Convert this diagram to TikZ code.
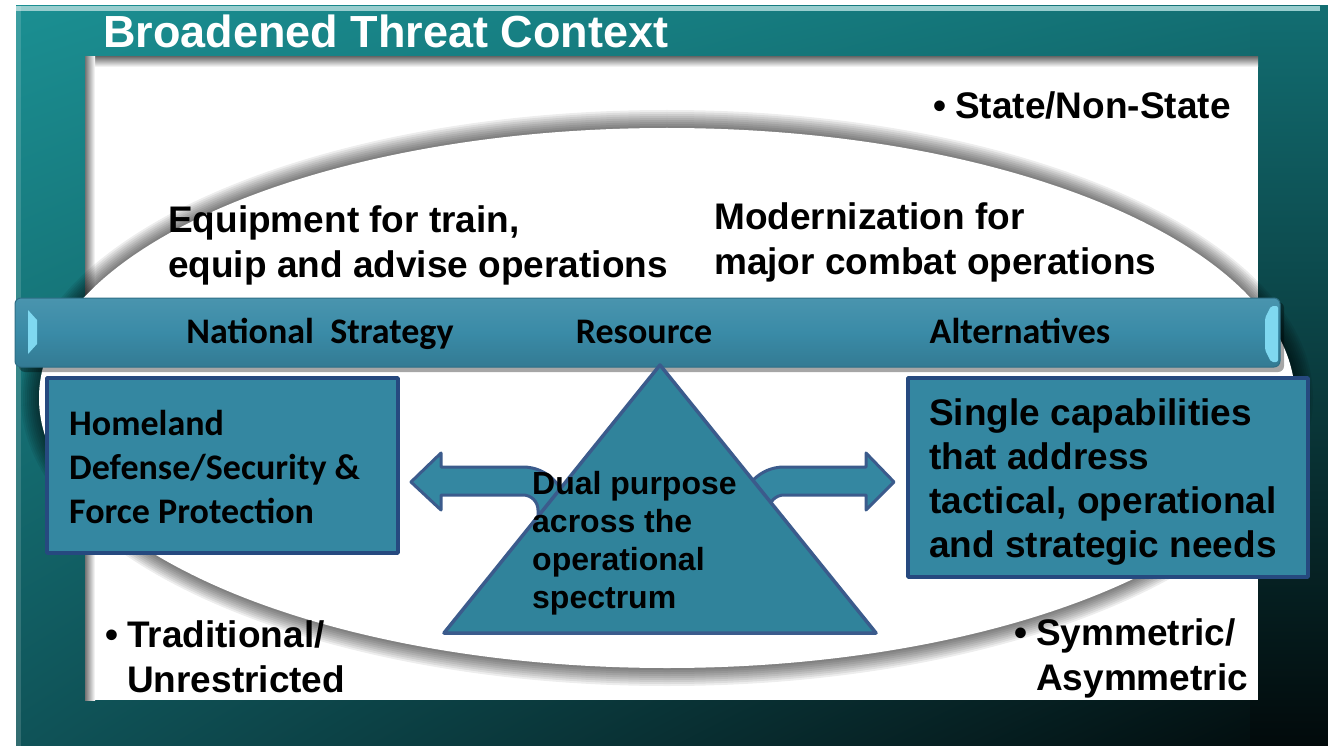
\documentclass[tikz,border=0pt]{standalone}
\usepackage{fontspec}
\setmainfont{Liberation Sans}
\newfontfamily\calibri{Carlito}
\usepackage{tikz}
\usetikzlibrary{positioning,shadings}

\definecolor{frameTL}{HTML}{1B8F92}
\definecolor{frameTR}{HTML}{126E72}
\definecolor{frameBL}{HTML}{0F5358}
\definecolor{frameBR}{HTML}{020A0B}
\definecolor{framemid}{HTML}{08262A}
\definecolor{barblue}{HTML}{3A8BA7}
\definecolor{boxblue}{HTML}{3487A1}
\definecolor{boxedge}{HTML}{26497F}
\definecolor{tribg}{HTML}{30839B}
\definecolor{triedge}{HTML}{3B5B8C}
\definecolor{capcyan}{HTML}{7FD8F0}

\begin{document}
\begin{tikzpicture}[x=1pt,y=-1pt,line join=round,
  big text/.style={anchor=base west,align=left,inner sep=0pt,font=\bfseries\fontsize{37}{45}\selectfont},
  bar text/.style={anchor=base,inner sep=0pt,font=\calibri\bfseries\fontsize{36}{44}\selectfont},
  box node/.style={draw=boxedge,fill=boxblue,line width=3.5pt,inner sep=0pt},
  box text/.style={anchor=base west,align=left,inner sep=0pt,font=\calibri\bfseries\fontsize{36}{44}\selectfont},
  arrow shape/.style={draw=triedge,fill=boxblue,line width=3pt},
  tri shape/.style={draw=triedge,fill=tribg,line width=3.5pt}]
  \useasboundingbox (0,0) rectangle (1328,746);
  \fill[white] (0,0) rectangle (1328,746);

  % frame and inner sheet
  \shade[upper left=frameTL,upper right=frameTR,lower left=frameBL,lower right=frameBR]
    (16,6) rectangle (1328,746);
  \shade[top color=frameTR,middle color=framemid,bottom color=frameBR] (1250,6) rectangle (1328,746);
  \fill[white!55!frameTL] (16,6) rectangle (1320,11);
  \fill[white,opacity=.15] (16,6) rectangle (21,746);
  \fill[white] (85,57) rectangle (1258,700);
  \shade[top color=black!55,bottom color=white] (85,57) rectangle (1258,67);
  \shade[left color=black!55,right color=white] (85,57) rectangle (95,700);

  % the dish
  \foreach \k in {18,16,...,2}
    \fill[black,opacity=.07] (667,398) ellipse [x radius=628+\k,y radius=270+\k];
  \fill[white] (667,398) ellipse [x radius=628,y radius=270];

  \node[big text,text=white,font=\bfseries\fontsize{45}{50}\selectfont] (title) at (103,48) {Broadened Threat Context};
  \node[big text] (state) at (955,119) {\llap{\textbullet\hspace{9pt}}State/Non-State};
  \node[big text] (equip) at (168,277) {Equipment for train,\\equip and advise operations};
  \node[big text] (modern) at (714,274) {Modernization for\\major combat operations};
  \node[big text] (trad) at (127,692) {\llap{\textbullet\hspace{9pt}}Traditional/\\Unrestricted};
  \node[big text] (symm) at (1036,690) {\llap{\textbullet\hspace{9pt}}Symmetric/\\Asymmetric};

  % resource bar
  \fill[black,opacity=.35,rounded corners=6pt] (19,302) rectangle (1284,372);
  \node[rounded corners=6pt,draw=barblue!80!black,line width=1pt,top color=barblue!92!white,bottom color=barblue!88!black,
    middle color=barblue,minimum width=1265,minimum height=69] (bar) at (647.5,332.5) {};
  \fill[capcyan] (28,310) -- (37,320) -- (37,344) -- (28,354) -- cycle;
  \fill[capcyan,rounded corners=2pt] (1271,306) -- (1278,306) -- (1278,362) -- (1271,362) -- (1265,350) -- (1265,318) -- cycle;
  \node[bar text] (national) at (320,343) {National\ \ Strategy};
  \node[bar text] (resource) at (644,343) {Resource};
  \node[bar text] (alternatives) at (1020,343) {Alternatives};

  % side boxes
  \node[box node,minimum width=351,minimum height=175] (homebox) at (222.5,465.5) {};
  \node[box text] (hometext) at (69,523) {Homeland\\Defense/Security \&\\Force Protection};
  \node[box node,minimum width=400,minimum height=199] (singlebox) at (1108,477.5) {};
  \node[big text,font=\bfseries\fontsize{37}{44}\selectfont] (singletext) at (929,557) {Single capabilities\\that address\\tactical, operational\\and strategic needs};

  % arrows out of the triangle
  \draw[arrow shape] (411,482) -- (441,453) -- (441,467) -- (523,467) arc[start angle=-90,end angle=0,radius=43]
    -- (566,545) -- (538,545) -- (538,510) arc[start angle=0,end angle=-90,radius=15] -- (441,495) -- (441,510) -- cycle;
  \draw[arrow shape] (894,482) -- (866,453) -- (866,467) -- (784,467) arc[start angle=-90,end angle=-180,radius=43]
    -- (741,545) -- (769,545) -- (769,510) arc[start angle=180,end angle=270,radius=15] -- (866,495) -- (866,510) -- cycle;

  \coordinate (apex) at (660,365);
  \coordinate (baseR) at (876,633);
  \coordinate (baseL) at (444,633);
  \draw[tri shape] (apex) -- (baseR) -- (baseL) -- cycle;
  \node[big text,font=\bfseries\fontsize{32}{37.7}\selectfont] (dual) at (532,608) {Dual purpose\\across the\\operational\\spectrum};
\end{tikzpicture}
\end{document}
